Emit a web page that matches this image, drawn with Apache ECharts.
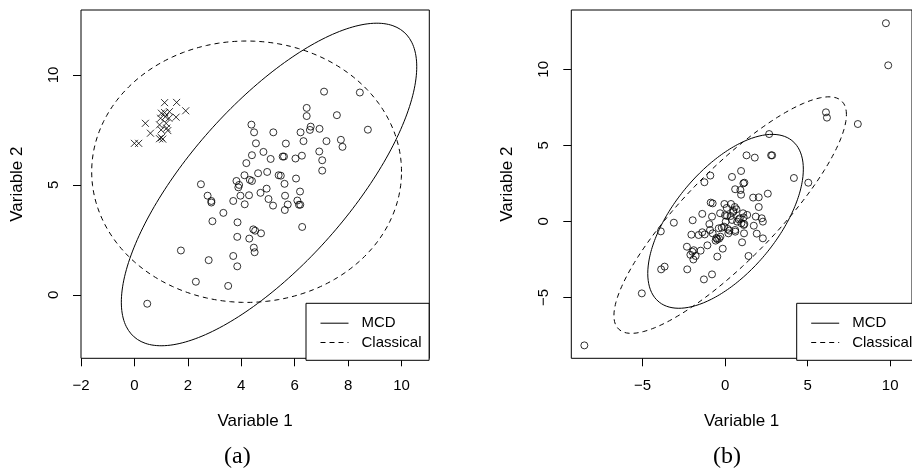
<!DOCTYPE html>
<html><head><meta charset="utf-8">
<script src="https://cdn.jsdelivr.net/npm/echarts@6/dist/echarts.min.js"></script>
<style>html,body{margin:0;padding:0;background:#fff}#c{width:912px;height:469px}</style>
</head><body><div id="c"></div>
<script>
// Panel (a): regular observations (circles) and outliers (crosses)
const circlesA = [[0.48,-0.40],[1.74,2.02],[2.30,0.60],[2.78,1.58],[3.51,0.41],[3.70,1.77],[3.85,1.30],[2.49,5.03],[2.74,4.51],[2.88,4.27],[2.88,4.20],[2.92,3.35],[3.33,3.73],[3.86,3.30],[3.85,2.64],[4.30,2.56],[4.45,2.98],[4.52,2.92],[4.74,2.80],[4.47,2.15],[4.50,1.94],[3.70,4.27],[3.82,5.18],[3.89,4.89],[3.92,5.00],[3.97,4.51],[4.13,4.12],[4.12,5.44],[4.29,4.53],[4.32,5.23],[4.40,5.18],[4.19,5.99],[4.40,6.35],[4.55,6.89],[4.48,7.39],[4.38,7.74],[4.83,6.50],[4.63,5.53],[4.72,4.64],[4.95,4.83],[4.97,5.59],[5.02,4.36],[5.19,4.06],[5.10,6.18],[5.20,7.39],[5.40,5.44],[5.48,5.42],[5.55,6.29],[5.60,6.29],[5.62,5.05],[5.64,4.51],[5.63,3.86],[5.74,4.11],[5.67,6.88],[6.03,6.20],[6.05,5.29],[6.10,4.29],[6.16,4.10],[6.21,4.10],[6.20,4.70],[6.28,3.09],[6.27,6.33],[6.33,6.99],[6.22,7.39],[6.45,8.50],[6.45,8.13],[6.57,7.50],[6.60,7.65],[6.93,7.55],[7.19,6.99],[6.92,6.52],[7.03,6.12],[7.03,5.65],[7.10,9.24],[7.58,8.17],[7.73,7.05],[7.79,6.73],[8.44,9.20],[8.74,7.51]];
const crossesA = [[0.00,6.89],[0.16,6.89],[0.41,7.80],[0.60,7.35],[0.94,7.10],[1.01,7.15],[1.06,7.08],[0.94,7.73],[1.00,7.50],[1.25,7.47],[1.21,7.58],[1.13,8.74],[1.58,8.75],[1.92,8.37],[1.56,8.08],[1.31,8.33],[1.01,8.26],[1.13,8.29],[0.98,8.03],[1.29,8.03],[1.16,8.10],[1.19,7.80]];
// Panel (b) observations
const pointsB = [[9.74,13.03],[9.88,10.26],[6.11,7.17],[6.17,6.82],[8.04,6.40],[2.67,5.74],[2.79,4.34],[2.85,4.34],[1.30,4.34],[1.80,4.19],[4.17,2.85],[5.04,2.54],[0.42,2.92],[0.97,3.31],[-1.25,2.57],[-0.89,3.01],[2.59,1.82],[1.70,1.56],[2.04,1.58],[2.04,0.94],[1.11,2.50],[1.17,2.54],[0.61,2.11],[0.93,2.06],[0.97,1.75],[-3.10,-0.09],[-3.89,-0.66],[-5.04,-4.74],[-3.87,-3.16],[-3.66,-2.98],[-8.52,-8.16],
[-1.96,0.07],[-2.04,-0.88],[-2.31,-1.67],[-1.38,0.49],[-1.98,-2.00],[-1.78,-2.28],[-1.48,-1.93],[-1.92,-2.51],[-2.29,-3.16],[-1.28,-3.82],[-0.79,-3.49],[-0.47,-2.32],[-0.14,-1.80],[-1.07,-1.58],
[-1.38,-0.72],[-1.23,-0.86],[-0.91,-0.57],[-0.95,-0.18],[-0.79,0.31],[-0.87,1.23],[-0.75,1.18],[-0.47,-1.18],[-0.36,-1.14],[-0.57,-1.27],[-0.28,-1.01],[-0.75,-0.79],[-0.20,-0.42],[-0.30,0.53],[-0.04,1.14],[0.10,0.88],[0.36,1.14],[0.59,0.94],[0.69,0.79],[0.51,0.68],[0.12,0.35],[0.42,0.09],[0.73,-0.02],[0.83,0.13],[1.09,0.53],[1.34,0.42],[1.13,0.26],[0.99,-0.13],[1.13,-0.24],[1.15,-0.79],[1.03,-1.38],[1.42,-2.28],[0.61,-0.57],[0.26,-0.61],[-0.06,-0.35],[0.04,-0.02],[0.20,-0.79],[1.74,-0.29],[1.86,0.31],[1.92,-0.81],[2.29,-0.02],[2.29,-1.12],[0.16,-0.50],[-0.38,-0.46],[-0.53,-1.10],[0.34,0.35],[0.49,0.61],[2.22,0.20],[1.17,-0.18],[0.62,-0.68],[-1.60,-0.90],[-1.90,-1.90],[-2.10,-2.20],[0.00,0.40],[0.90,0.20]];
// Tolerance ellipse estimates: [centerX, centerY, halfWidthX, halfHeightY, correlation]
const mcdA = [5.04, 5.02, 5.53, 7.33, 0.73];
const classicalA = [4.20, 5.60, 5.80, 5.94, 0.0];
const mcdB = [0.03, 0.00, 4.71, 5.72, 0.60];
const classicalB = [0.31, 0.41, 7.04, 7.78, 0.85];
// Axis ticks and ranges
const xTicksA = [-2, 0, 2, 4, 6, 8, 10];
const yTicksA = [0, 5, 10];
const xTicksB = [-5, 0, 5, 10];
const yTicksB = [-5, 0, 5, 10];
const xRangeA = [-2.0, 11.04], yRangeA = [-2.88, 12.95];
const xRangeB = [-9.31, 11.32], yRangeB = [-9.01, 13.9];
const seriesNames = ['MCD', 'Classical'];
const axisTitles = ['Variable 1', 'Variable 2'];
const panelLabels = ['(a)', '(b)'];

function outline(e) {
  const [cx, cy, sx, sy, r] = e;
  const s = Math.sqrt(1 - r * r);
  const pts = [];
  for (let i = 0; i <= 240; i++) {
    const t = 2 * Math.PI * i / 240;
    pts.push([cx + sx * Math.cos(t), cy + sy * (r * Math.cos(t) + s * Math.sin(t))]);
  }
  return pts;
}
const F = 'Liberation Sans';
const fmt = v => String(v).replace('-', '\u2212');
function xAx(gi, range, ticks) {
  return {type: 'value', gridIndex: gi, min: range[0], max: range[1],
    name: axisTitles[0], nameLocation: 'middle', nameGap: 55,
    nameTextStyle: {fontFamily: F, fontSize: 17, color: '#000'},
    axisLine: {show: false, onZero: false}, splitLine: {show: false},
    axisTick: {show: true, inside: false, length: 8, customValues: ticks, lineStyle: {color: '#000', width: 1}},
    axisLabel: {customValues: ticks, formatter: fmt, margin: 20, fontFamily: F, fontSize: 15, color: '#000'}};
}
function yAx(gi, range, ticks) {
  return {type: 'value', gridIndex: gi, min: range[0], max: range[1],
    name: axisTitles[1], nameLocation: 'middle', nameGap: 55, nameRotate: 90,
    nameTextStyle: {fontFamily: F, fontSize: 17, color: '#000'},
    axisLine: {show: false, onZero: false}, splitLine: {show: false},
    axisTick: {show: true, inside: false, length: 8, customValues: ticks, lineStyle: {color: '#000', width: 1}},
    axisLabel: {customValues: ticks, formatter: fmt, margin: 20, rotate: 90, fontFamily: F, fontSize: 15, color: '#000'}};
}
const circleStyle = {color: 'rgba(0,0,0,0)', borderColor: '#000', borderWidth: 1};
function ell(name, gi, e, dashed) {
  return {type: 'line', name: name, xAxisIndex: gi, yAxisIndex: gi, data: outline(e),
    symbol: 'none', showSymbol: false, smooth: false, silent: true, clip: true, z: 3,
    lineStyle: {color: '#000', width: 1, type: dashed ? [5, 4] : 'solid'},
    itemStyle: {color: 'rgba(0,0,0,0)', borderWidth: 0, opacity: 0}};
}
function legendAt(left) {
  return {left: left, top: 303.3, orient: 'vertical', data: seriesNames, selectedMode: false,
    itemWidth: 28, itemHeight: 14, itemGap: 4.3, padding: [12.4, 7.6, 10.3, 14],
    backgroundColor: '#fff', borderColor: '#000', borderWidth: 1, borderRadius: 0,
    itemStyle: {color: 'rgba(0,0,0,0)', borderWidth: 0, opacity: 0},
    lineStyle: {color: '#000', width: 1},
    textStyle: {fontFamily: F, fontSize: 15, color: '#000', padding: [0, 0, 0, 8]}};
}
const titleStyle = {fontFamily: 'Liberation Serif', fontSize: 24, fontWeight: 'normal', color: '#000', lineHeight: 24};
const chart = echarts.init(document.getElementById('c'), null, {renderer: 'canvas'});
chart.setOption({
  animation: false,
  backgroundColor: '#fff',
  title: [
    {text: panelLabels[0], left: 224, top: 445, padding: 0, textStyle: titleStyle},
    {text: panelLabels[1], left: 713, top: 445, padding: 0, textStyle: titleStyle}
  ],
  grid: [
    {left: 81, top: 10, width: 348.3, height: 348.3, show: true, borderColor: '#000', borderWidth: 1, backgroundColor: 'transparent'},
    {left: 571.3, top: 10, width: 348, height: 348.3, show: true, borderColor: '#000', borderWidth: 1, backgroundColor: 'transparent'}
  ],
  xAxis: [xAx(0, xRangeA, xTicksA), xAx(1, xRangeB, xTicksB)],
  yAxis: [yAx(0, yRangeA, yTicksA), yAx(1, yRangeB, yTicksB)],
  legend: [legendAt(306), legendAt(796.7)],
  series: [
    {type: 'scatter', xAxisIndex: 0, yAxisIndex: 0, data: circlesA, symbol: 'circle', symbolSize: 7, itemStyle: circleStyle, silent: true},
    {type: 'scatter', xAxisIndex: 0, yAxisIndex: 0, data: crossesA, symbol: 'path://M0,0L10,10M10,0L0,10', symbolSize: 7, itemStyle: circleStyle, silent: true},
    ell(seriesNames[0], 0, mcdA, false),
    ell(seriesNames[1], 0, classicalA, true),
    {type: 'scatter', xAxisIndex: 1, yAxisIndex: 1, data: pointsB, symbol: 'circle', symbolSize: 7, itemStyle: circleStyle, silent: true},
    ell(seriesNames[0], 1, mcdB, false),
    ell(seriesNames[1], 1, classicalB, true)
  ]
});
</script></body></html>
